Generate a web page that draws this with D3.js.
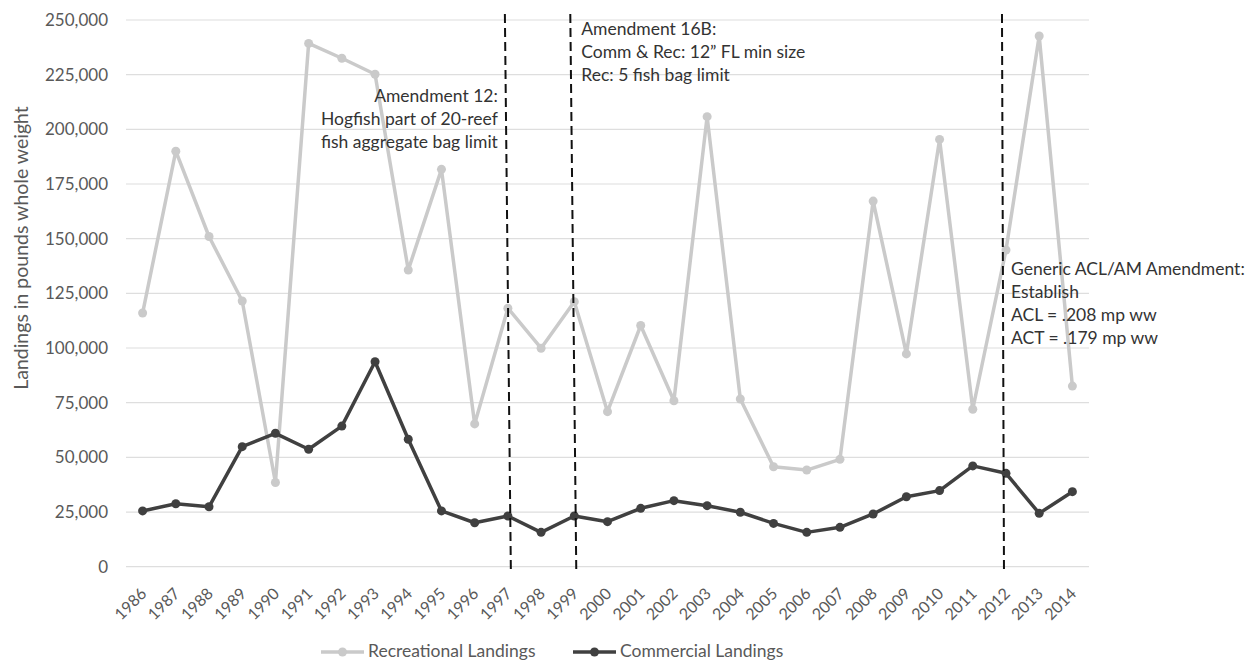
<!DOCTYPE html>
<html>
<head>
<meta charset="utf-8">
<script src="https://cdn.jsdelivr.net/npm/d3@7"></script>
<style>
  body { margin: 0; background: #fff; }
  text { font-family: Lato, "Open Sans", sans-serif; }
</style>
</head>
<body>
<div id="chart"></div>
<script>
const years = d3.range(1986, 2015).map(String);

const recreational = [
  116000, 190000, 151000, 121500, 38500, 239300, 232500, 225200, 135700, 181700,
  65300, 118200, 99900, 121200, 70900, 110300, 75900, 205800, 76700, 45700,
  44200, 49100, 167200, 97300, 195400, 72000, 144800, 242700, 82600
];

const commercial = [
  25500, 28800, 27400, 54900, 61000, 53700, 64300, 93700, 58300, 25500,
  20100, 23200, 15700, 23200, 20600, 26700, 30200, 27900, 24900, 19800,
  15700, 18000, 24100, 32000, 34800, 46100, 42700, 24400, 34300
];

const yTicks = [0, 25000, 50000, 75000, 100000, 125000, 150000, 175000, 200000, 225000, 250000];

const amendments = [
  { year: "1997", anchor: "end", dx: -10, y0: 96, lines: ["Amendment 12:", "Hogfish part of 20-reef", "fish aggregate bag limit"] },
  { year: "1999", anchor: "start", dx: 7, y0: 29, lines: ["Amendment 16B:", "Comm & Rec: 12\u201D FL min size", "Rec: 5 fish bag limit"] },
  { year: "2012", anchor: "start", dx: 5, y0: 269, lines: ["Generic ACL/AM Amendment:", "Establish", "ACL = .208 mp ww", "ACT = .179 mp ww"] }
];

const width = 1248, height = 663;
const margin = { top: 20, right: 159, bottom: 96, left: 126 };

const svg = d3.select("#chart").append("svg")
  .attr("width", width)
  .attr("height", height);

const x = d3.scaleBand()
  .domain(years)
  .range([margin.left, width - margin.right]);

const y = d3.scaleLinear()
  .domain([0, 250000])
  .range([height - margin.bottom - 0.3, margin.top]);

const cx = d => x(d) + x.bandwidth() / 2;

// gridlines
svg.append("g")
  .selectAll("line")
  .data(yTicks)
  .join("line")
  .attr("x1", margin.left)
  .attr("x2", width - margin.right)
  .attr("y1", d => y(d))
  .attr("y2", d => y(d))
  .attr("stroke", "#dedede")
  .attr("stroke-width", 1.2);

// y axis labels
const yAxis = d3.axisLeft(y)
  .tickValues(yTicks)
  .tickFormat(d3.format(","))
  .tickSize(0)
  .tickPadding(18);

svg.append("g")
  .attr("transform", `translate(${margin.left},0)`)
  .call(yAxis)
  .call(g => g.select(".domain").remove())
  .call(g => g.selectAll("text")
    .attr("fill", "#595959")
    .style("font-size", "17px"));

// x axis labels
const xAxis = d3.axisBottom(x).tickSize(0).tickPadding(0);

svg.append("g")
  .attr("transform", `translate(0,${y(0)})`)
  .call(xAxis)
  .call(g => g.select(".domain").remove())
  .call(g => g.selectAll("text")
    .attr("fill", "#595959")
    .style("font-size", "16px")
    .attr("text-anchor", "end")
    .attr("y", 0)
    .attr("dy", null)
    .attr("transform", "translate(5,28) rotate(-45)"));

// y title
svg.append("text")
  .attr("transform", `translate(28,248) rotate(-90)`)
  .attr("text-anchor", "middle")
  .attr("fill", "#595959")
  .style("font-size", "19.5px")
  .text("Landings in pounds whole weight");

// series
const line = d3.line()
  .x((d, i) => cx(years[i]))
  .y(d => y(d));

const series = [
  { name: "Recreational Landings", values: recreational, color: "#cacaca", width: 3.5 },
  { name: "Commercial Landings", values: commercial, color: "#404040", width: 3.5 }
];

series.forEach(s => {
  svg.append("path")
    .datum(s.values)
    .attr("fill", "none")
    .attr("stroke", s.color)
    .attr("stroke-width", s.width)
    .attr("stroke-linejoin", "round")
    .attr("d", line);

  svg.append("g")
    .selectAll("circle")
    .data(s.values)
    .join("circle")
    .attr("cx", (d, i) => cx(years[i]))
    .attr("cy", d => y(d))
    .attr("r", 4.5)
    .attr("fill", s.color);
});

// amendment dashed lines + notes
const dashShift = { "1997": [-3, 3], "1999": [-4, 2], "2012": [-4, -2] };

amendments.forEach(a => {
  const [t, b] = dashShift[a.year];
  svg.append("line")
    .attr("x1", cx(a.year) + t)
    .attr("x2", cx(a.year) + b)
    .attr("y1", y(250000) - 6)
    .attr("y2", y(0) + 6)
    .attr("stroke", "#111")
    .attr("stroke-width", 2)
    .attr("stroke-dasharray", "9,5");

  const txt = svg.append("text")
    .attr("text-anchor", a.anchor)
    .attr("fill", "#333")
    .style("font-size", "17.5px");

  a.lines.forEach((l, i) => {
    txt.append("tspan")
      .attr("x", cx(a.year) + a.dx)
      .attr("y", a.y0 + i * 23)
      .attr("dy", "0.35em")
      .text(l);
  });
});

// legend
const legend = [
  { s: series[0], x0: 321 },
  { s: series[1], x0: 573 }
];

legend.forEach(l => {
  const g = svg.append("g").attr("transform", `translate(${l.x0},652)`);
  g.append("line")
    .attr("x1", 0).attr("x2", 43)
    .attr("stroke", l.s.color)
    .attr("stroke-width", 3.5);
  g.append("circle")
    .attr("cx", 21.5)
    .attr("r", 4.5)
    .attr("fill", l.s.color);
  g.append("text")
    .attr("x", 47)
    .attr("y", 5)
    .attr("fill", "#595959")
    .style("font-size", "17.5px")
    .text(l.s.name);
});
</script>
</body>
</html>
